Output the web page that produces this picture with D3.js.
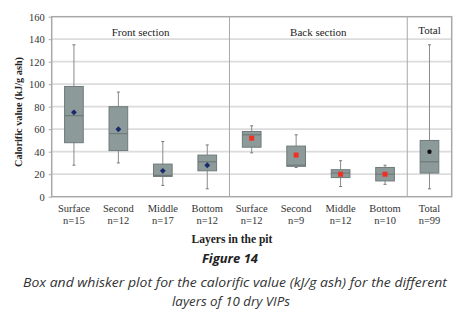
<!DOCTYPE html>
<html><head><meta charset="utf-8">
<script src="https://cdn.jsdelivr.net/npm/d3@7"></script>
<style>body{margin:0;background:#fff}svg{display:block}</style>
</head><body>
<svg id="c" width="461" height="320"></svg>
<script>
const categories = ["Surface","Second","Middle","Bottom","Surface","Second","Middle","Bottom","Total"];
const nLabels = ["n=15","n=12","n=17","n=12","n=12","n=9","n=12","n=10","n=99"];
const groups = ["front","front","front","front","back","back","back","back","total"];
const mins    = [28, 30, 10,  7, 39, 26,  9, 11,  7];
const q1s     = [48, 41, 18, 23, 44, 27, 17, 14, 21];
const medians = [72, 56, 19, 31, 55, 28, 21, 20, 31];
const q3s     = [98, 80, 29, 37, 58, 45, 24, 26, 50];
const maxs    = [135, 93, 49, 46, 63, 55, 32, 28, 135];
const means   = [75, 60, 23, 28, 52, 37, 20, 20, 40];
const sectionNames = ["Front section","Back section","Total"];
const sectionStart = [0, 4, 8];
const sectionEnd = [3, 7, 8];
const yTicks = [0,20,40,60,80,100,120,140,160];

const svg = d3.select("#c");
const L = 51.7, R = 451.7, T = 16.7, B = 196.7;
const x = d3.scaleBand().domain(d3.range(categories.length)).range([L, R]).padding(0);
const y = d3.scaleLinear().domain([0,160]).range([B, T]);
const serif = "'Liberation Serif','Times New Roman',serif";

// gridlines
svg.append("g").selectAll("line").data(yTicks.filter(t => t>0 && t<160)).join("line")
  .attr("x1", L).attr("x2", R).attr("y1", d=>y(d)).attr("y2", d=>y(d))
  .attr("stroke", "#dcdcdc").attr("stroke-width", 1.8);

// y axis labels
const yAxis = d3.axisLeft(y).tickValues(yTicks).tickSize(3).tickPadding(4);
const ya = svg.append("g").attr("transform", `translate(${L},0)`).call(yAxis);
ya.select(".domain").remove();
ya.selectAll("line").attr("stroke", "#aaa");
ya.selectAll("text").attr("font-family", serif).attr("font-size", 10.5).attr("fill", "#333");

// section dividers
svg.append("g").selectAll("line").data(sectionStart.slice(1)).join("line")
  .attr("x1", d=>x(d)).attr("x2", d=>x(d)).attr("y1", T).attr("y2", B)
  .attr("stroke", "#a8a8a8").attr("stroke-width", 1);

// border
svg.append("rect").attr("x", L).attr("y", T).attr("width", R-L).attr("height", B-T)
  .attr("fill", "none").attr("stroke", "#a8a8a8").attr("stroke-width", 1.5);

// section titles
svg.append("g").selectAll("text").data(sectionNames).join("text")
  .attr("x", (d,i)=> (x(sectionStart[i]) + x(sectionEnd[i]) + x.bandwidth())/2)
  .attr("y", (d,i)=> i===2 ? 34 : 36)
  .attr("text-anchor", "middle").attr("font-family", serif).attr("font-size", 11)
  .attr("fill", "#222").text(d=>d);

// boxes
const bw = x.bandwidth()*0.42;
const g = svg.append("g").selectAll("g").data(d3.range(categories.length)).join("g")
  .attr("transform", i=>`translate(${x(i)+x.bandwidth()/2},0)`);
g.append("line").attr("x1",0).attr("x2",0).attr("y1", i=>y(maxs[i])).attr("y2", i=>y(mins[i]))
  .attr("stroke", "#8a8a8a").attr("stroke-width", 1);
g.append("line").attr("x1",-1.5).attr("x2",1.5).attr("y1", i=>y(maxs[i])).attr("y2", i=>y(maxs[i]))
  .attr("stroke", "#777").attr("stroke-width", 1);
g.append("line").attr("x1",-1.5).attr("x2",1.5).attr("y1", i=>y(mins[i])).attr("y2", i=>y(mins[i]))
  .attr("stroke", "#777").attr("stroke-width", 1);
g.append("rect").attr("x", -bw/2).attr("width", bw)
  .attr("y", i=>y(q3s[i])).attr("height", i=>y(q1s[i])-y(q3s[i]))
  .attr("fill", "#8d9a9a").attr("stroke", "#6f7a7a").attr("stroke-width", 1);
g.append("line").attr("x1",-bw/2).attr("x2",bw/2).attr("y1", i=>y(medians[i])).attr("y2", i=>y(medians[i]))
  .attr("stroke", "#6a7474").attr("stroke-width", 1);

// mean markers
g.filter(i=>groups[i]==="front").append("path")
  .attr("d", d3.symbol(d3.symbolDiamond2, 22)())
  .attr("transform", i=>`translate(0,${y(means[i])})`).attr("fill", "#1b2a6e");
g.filter(i=>groups[i]==="back").append("rect")
  .attr("x", -2.5).attr("width", 5).attr("y", i=>y(means[i])-2.5).attr("height", 5)
  .attr("fill", "#ee3124");
g.filter(i=>groups[i]==="total").append("circle")
  .attr("cx", 0).attr("cy", i=>y(means[i])).attr("r", 2.2).attr("fill", "#111");

// x labels
g.append("text").attr("y", 212).attr("text-anchor","middle").attr("font-family", serif)
  .attr("font-size", 10.5).attr("fill", "#333").text(i=>categories[i]);
g.append("text").attr("y", 224).attr("text-anchor","middle").attr("font-family", serif)
  .attr("font-size", 10.5).attr("fill", "#333").text(i=>nLabels[i]);

// axis titles
svg.append("text").attr("x", 232).attr("y", 243).attr("text-anchor","middle")
  .attr("font-family", serif).attr("font-weight","bold").attr("font-size", 11.5).attr("fill","#222")
  .text("Layers in the pit");
svg.append("text").attr("transform", "translate(22,112) rotate(-90)").attr("text-anchor","middle")
  .attr("font-family", serif).attr("font-weight","bold").attr("font-size", 10.5).attr("fill","#222")
  .attr("textLength", 110).attr("lengthAdjust","spacingAndGlyphs")
  .text("Calorific value (kJ/g ash)");

// caption
const sans = "'Open Sans','Noto Sans',sans-serif";
svg.append("text").attr("x", 230).attr("y", 263).attr("text-anchor","middle")
  .attr("font-family", sans).attr("font-style","italic").attr("font-weight","bold")
  .attr("font-size", 13).attr("fill","#222").text("Figure 14");
svg.append("text").attr("x", 235).attr("y", 287).attr("text-anchor","middle")
  .attr("font-family", sans).attr("font-style","italic").attr("font-size", 12).attr("fill","#333")
  .attr("textLength", 424).attr("lengthAdjust","spacingAndGlyphs")
  .text("Box and whisker plot for the calorific value (kJ/g ash) for the different");
svg.append("text").attr("x", 231).attr("y", 306).attr("text-anchor","middle")
  .attr("font-family", sans).attr("font-style","italic").attr("font-size", 12).attr("fill","#333")
  .attr("textLength", 118).attr("lengthAdjust","spacingAndGlyphs")
  .text("layers of 10 dry VIPs");
</script>
</body></html>
